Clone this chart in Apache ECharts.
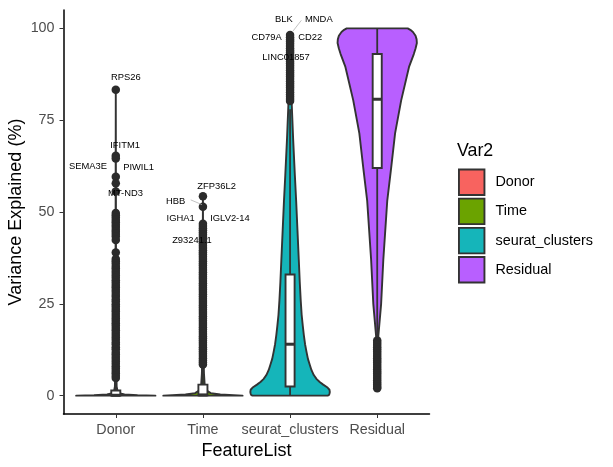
<!DOCTYPE html>
<html><head><meta charset="utf-8">
<style>html,body{margin:0;padding:0;background:#fff}#c{width:613px;height:467px}</style>
<script src="https://cdn.jsdelivr.net/npm/echarts@6/dist/echarts.min.js"></script>
</head><body><div id="c"></div>
<script>
const categories = ['Donor','Time','seurat_clusters','Residual'];
const colors = ['#F8635F','#6BA300','#15B5BA','#B85FFF'];
const yTicks = [0,25,50,75,100];

// violin outlines: value level, half width in category units
const donorLevels = [0,0.1,0.3,0.6,1.2,2.5,10,83.3];
const donorWidths = [0.455,0.25,0.1,0.05,0.02,0.01,0.004,0];
const timeLevels = [0,0.3,0.7,1.5,3,6,12,54.3];
const timeWidths = [0.455,0.2,0.09,0.035,0.02,0.012,0.006,0];
const seuratLevels = [0,0.15,0.5,1,1.6,2.3,3,3.7,4.5,5.6,7,8.5,10,12,14,16.5,19,22,26,31,37,45,53,60,70,80,90,98.3];
const seuratWidths = [0.43,0.445,0.452,0.456,0.452,0.425,0.38,0.34,0.305,0.272,0.245,0.225,0.205,0.188,0.172,0.158,0.146,0.133,0.122,0.111,0.1,0.085,0.07,0.055,0.035,0.018,0.006,0];
const residualLevels = [2,10,16,25,37,53,62,71.4,80.4,89.5,93,94.5,96,97,98,99,99.6,100];
const residualWidths = [0,0.004,0.012,0.045,0.07,0.115,0.16,0.205,0.275,0.365,0.42,0.44,0.455,0.452,0.44,0.41,0.38,0.35];

// whiskerLow, q1, median, q3, whiskerHigh
const donorBox = [0,0,0.1,1.4,3.4];
const timeBox = [0,0.1,0.2,3,7];
const seuratBox = [0,2.5,14,33,78];
const residualBox = [16,62,80.7,93,100];

const donorDots = [83.3,65.3,64.6,59.6,57.8,55.6,49.7,49.1,48.5,47.8,47.2,46.5,45.9,45.2,44.6,44,43.3,42.4,39,37.2,36.6,36,35.3,34.7,34,33.4,32.7,32.1,31.4,30.8,30.1,29.5,28.8,28.2,27.5,26.9,26.2,25.6,24.9,24.3,23.6,23,22.3,21.7,21,20.4,19.7,19.1,18.4,17.8,17.1,16.5,15.8,15.2,14.5,13.9,13.2,12.6,11.9,11.3,10.6,10,9.3,8.7,8,7.4,6.7,6.1,5.4,4.8];
const timeDots = [54.3,51.4,46.8,46.2,45.6,45,44.4,43.8,43.2,42.6,42,41.4,40.8,40.2,39.6,39,38.4,37.8,37.2,36.6,36,35.4,34.8,34.2,33.6,33,32.4,31.8,31.2,30.6,30,29.4,28.8,28.2,27.6,27,26.4,25.8,25.2,24.6,24,23.4,22.8,22.2,21.6,21,20.4,19.8,19.2,18.6,18,17.4,16.8,16.2,15.6,15,14.4,13.8,13.2,12.6,12,11.4,10.8,10.2,9.6,9,8.5];
const seuratDots = [98.2,97.6,97,96.4,95.8,95.2,94.6,94,93.4,92.8,92.2,91.6,91,90.4,89.8,89.2,88.6,88,87.4,86.8,86.2,85.6,85,84.4,83.8,83.2,82.6,82,81.4,80.8,80.2];
const residualDots = [15,14.4,13.8,13.2,12.6,12,11.4,10.8,10.2,9.6,9,8.4,7.8,7.2,6.6,6,5.4,4.8,4.2,3.6,3,2.4,2];

const noteNames = ['RPS26','IFITM1','SEMA3E','PIWIL1','MT-ND3','ZFP36L2','HBB','IGHA1','IGLV2-14','Z93241.1','BLK','MNDA','CD79A','CD22','LINC01857'];
const noteX = [1.115,1.107,0.68,1.261,1.112,2.157,1.686,1.744,2.31,1.874,2.93,3.33,2.73,3.23,2.954];
const noteV = [86.7,68.2,62.3,62.2,55,57.1,53,48.2,48.2,42.2,102.5,102.5,97.4,97.4,92.2];

// leader lines: x0, v0, x1, v1
const leaderHbb = [1.86,53.3,1.99,52];
const leaderBlk = [3.13,102.2,3.035,99.3];

const font = '"Liberation Sans", Arial, sans-serif';
const ink = '#333333', dotInk = '#2b2b2b';

function violin(cat, levels, widths, i){
  return {
    type:'custom', name:categories[i], coordinateSystem:'cartesian2d', z:2,
    itemStyle:{color:colors[i]},
    data:levels.map((l,k)=>[cat,l,widths[k]]),
    renderItem:function(p,api){
      if(p.dataIndex!==0) return null;
      const pts=[];
      levels.forEach((l,k)=>pts.push(api.coord([cat-widths[k],l])));
      for(let k=levels.length-1;k>=0;k--) pts.push(api.coord([cat+widths[k],levels[k]]));
      return {type:'polygon',shape:{points:pts,smooth:0},
        style:{fill:colors[i],stroke:ink,lineWidth:1.9,lineJoin:'round'}};
    }
  };
}
function dots(cat,vals){
  return {type:'scatter',z:3,symbol:'circle',symbolSize:8.5,silent:true,
    itemStyle:{color:dotInk,opacity:1},data:vals.map(v=>[cat,v])};
}
function box(cat,b){
  return {type:'custom',z:4,silent:true,data:[[cat,b[0],b[1],b[2],b[3],b[4]]],
    renderItem:function(p,api){
      const hw=0.052;
      const c=(x,v)=>api.coord([x,v]);
      const l=(a,v0,e,v1,w)=>({type:'line',shape:{x1:c(a,v0)[0],y1:c(a,v0)[1],x2:c(e,v1)[0],y2:c(e,v1)[1]},style:{stroke:ink,lineWidth:w}});
      const tl=c(cat-hw,b[3]), br=c(cat+hw,b[1]);
      return {type:'group',children:[
        l(cat,b[0],cat,b[1],1.8),
        l(cat,b[3],cat,b[4],1.8),
        {type:'rect',shape:{x:tl[0],y:tl[1],width:br[0]-tl[0],height:br[1]-tl[1]},style:{fill:'#fff',stroke:ink,lineWidth:1.9}},
        l(cat-hw,b[2],cat+hw,b[2],3)
      ]};
    }};
}
function leader(s){
  return {type:'custom',z:5,silent:true,data:[s],renderItem:function(p,api){
    const a=api.coord([s[0],s[1]]),e=api.coord([s[2],s[3]]);
    return {type:'line',shape:{x1:a[0],y1:a[1],x2:e[0],y2:e[1]},style:{stroke:'#b3b3b3',lineWidth:0.8}};
  }};
}
const notes={type:'custom',z:6,silent:true,
  data:noteNames.map((n,i)=>[noteX[i],noteV[i],n]),
  renderItem:function(p,api){
    const i=p.dataIndex,a=api.coord([noteX[i],noteV[i]]);
    return {type:'text',style:{text:noteNames[i],x:a[0],y:a[1],align:'center',verticalAlign:'middle',fontSize:9.4,fontFamily:font,fill:'#000'}};
  }};

const chart=echarts.init(document.getElementById('c'),null,{renderer:'canvas'});
chart.setOption({
  animation:false,
  backgroundColor:'#fff',
  grid:{left:63.5,right:183.5,top:10,bottom:53,containLabel:false,outerBoundsMode:'none'},
  xAxis:{type:'value',min:0.4,max:4.6,splitLine:{show:false},
    name:'FeatureList',nameLocation:'middle',nameGap:28,
    nameTextStyle:{fontSize:18,color:'#000',fontFamily:font},
    axisLine:{show:true,onZero:false,lineStyle:{color:'#000',width:1.5}},
    axisTick:{show:true,customValues:[1,2,3,4],length:4,lineStyle:{color:'#333',width:1}},
    axisLabel:{customValues:[1,2,3,4],color:'#4d4d4d',fontSize:14.3,fontFamily:font,margin:9,showMinLabel:true,showMaxLabel:true,
      formatter:v=>categories[v-1]||''}},
  yAxis:{type:'value',min:-5,max:105,splitLine:{show:false},
    name:'Variance Explained (%)',nameLocation:'middle',nameGap:38,nameMoveOverlap:false,
    nameTextStyle:{fontSize:18,color:'#000',fontFamily:font},
    axisLine:{show:true,onZero:false,lineStyle:{color:'#000',width:1.5}},
    axisTick:{show:true,customValues:yTicks,length:4,lineStyle:{color:'#333',width:1}},
    axisLabel:{customValues:yTicks,color:'#4d4d4d',fontSize:14.3,fontFamily:font,margin:9}},
  legend:{orient:'vertical',left:458,top:168.5,padding:0,itemWidth:25.5,itemHeight:25.5,itemGap:1.8,icon:'rect',selectedMode:false,
    data:categories,
    itemStyle:{borderColor:'#333',borderWidth:1.9},
    textStyle:{fontSize:14.4,color:'#000',fontFamily:font,padding:[0,0,0,6]}},
  graphic:[{type:'text',left:457,top:142,style:{text:'Var2',fontSize:17.8,fontFamily:font,fill:'#000'}}],
  series:[
    violin(1,donorLevels,donorWidths,0),violin(2,timeLevels,timeWidths,1),
    violin(3,seuratLevels,seuratWidths,2),violin(4,residualLevels,residualWidths,3),
    dots(1,donorDots),dots(2,timeDots),dots(3,seuratDots),dots(4,residualDots),
    box(1,donorBox),box(2,timeBox),box(3,seuratBox),box(4,residualBox),
    leader(leaderHbb),leader(leaderBlk),notes
  ]
});
</script></body></html>
